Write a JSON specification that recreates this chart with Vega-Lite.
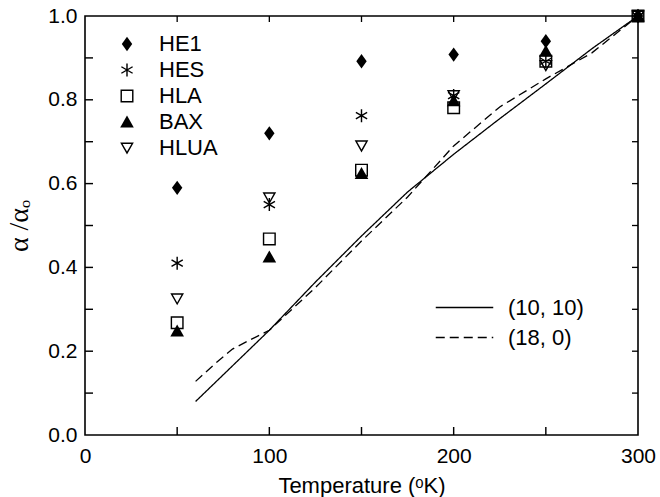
{
  "$schema": "https://vega.github.io/schema/vega-lite/v6.json",
  "width": 553,
  "height": 419,
  "autosize": {"type": "none"},
  "padding": {"left": 85, "top": 16, "right": 22, "bottom": 62},
  "background": "white",
  "config": {
    "view": {"stroke": "black", "strokeWidth": 1.6},
    "font": "Liberation Sans",
    "axis": {"grid": false, "domain": false, "ticks": false, "labelFlush": false, "labelColor": "black", "titleColor": "black", "labelFont": "Liberation Sans", "titleFont": "Liberation Sans", "titleFontWeight": "normal"},
    "axisX": {"labelPadding": 10, "labelFontSize": 21, "titleFontSize": 22, "titlePadding": 9},
    "axisY": {"labelPadding": 8, "labelFontSize": 21, "titleFont": "Liberation Serif", "titleFontSize": 28, "titlePadding": 14}
  },
  "datasets": {
    "pts": [
      {"T": 50, "a": 0.59, "s": "HE1"}, {"T": 50, "a": 0.41, "s": "HES"}, {"T": 50, "a": 0.268, "s": "HLA"}, {"T": 50, "a": 0.248, "s": "BAX"}, {"T": 50, "a": 0.325, "s": "HLUA"},
      {"T": 100, "a": 0.72, "s": "HE1"}, {"T": 100, "a": 0.55, "s": "HES"}, {"T": 100, "a": 0.468, "s": "HLA"}, {"T": 100, "a": 0.425, "s": "BAX"}, {"T": 100, "a": 0.566, "s": "HLUA"},
      {"T": 150, "a": 0.892, "s": "HE1"}, {"T": 150, "a": 0.762, "s": "HES"}, {"T": 150, "a": 0.632, "s": "HLA"}, {"T": 150, "a": 0.624, "s": "BAX"}, {"T": 150, "a": 0.69, "s": "HLUA"},
      {"T": 200, "a": 0.908, "s": "HE1"}, {"T": 200, "a": 0.81, "s": "HES"}, {"T": 200, "a": 0.781, "s": "HLA"}, {"T": 200, "a": 0.798, "s": "BAX"}, {"T": 200, "a": 0.81, "s": "HLUA"},
      {"T": 250, "a": 0.94, "s": "HE1"}, {"T": 250, "a": 0.892, "s": "HES"}, {"T": 250, "a": 0.892, "s": "HLA"}, {"T": 250, "a": 0.916, "s": "BAX"}, {"T": 250, "a": 0.882, "s": "HLUA"},
      {"T": 300, "a": 1.0, "s": "HE1"}, {"T": 300, "a": 1.0, "s": "HES"}, {"T": 300, "a": 1.0, "s": "HLA"}, {"T": 300, "a": 1.0, "s": "BAX"}, {"T": 300, "a": 1.0, "s": "HLUA"}
    ],
    "crv": [
      {"T": 60, "a": 0.08, "c": "(10, 10)"}, {"T": 80, "a": 0.165, "c": "(10, 10)"}, {"T": 100, "a": 0.25, "c": "(10, 10)"}, {"T": 125, "a": 0.365, "c": "(10, 10)"}, {"T": 150, "a": 0.475, "c": "(10, 10)"}, {"T": 175, "a": 0.58, "c": "(10, 10)"}, {"T": 200, "a": 0.67, "c": "(10, 10)"}, {"T": 225, "a": 0.755, "c": "(10, 10)"}, {"T": 250, "a": 0.838, "c": "(10, 10)"}, {"T": 275, "a": 0.922, "c": "(10, 10)"}, {"T": 300, "a": 1.0, "c": "(10, 10)"},
      {"T": 60, "a": 0.128, "c": "(18, 0)"}, {"T": 70, "a": 0.168, "c": "(18, 0)"}, {"T": 80, "a": 0.205, "c": "(18, 0)"}, {"T": 90, "a": 0.228, "c": "(18, 0)"}, {"T": 100, "a": 0.25, "c": "(18, 0)"}, {"T": 125, "a": 0.352, "c": "(18, 0)"}, {"T": 150, "a": 0.463, "c": "(18, 0)"}, {"T": 175, "a": 0.568, "c": "(18, 0)"}, {"T": 200, "a": 0.69, "c": "(18, 0)"}, {"T": 225, "a": 0.783, "c": "(18, 0)"}, {"T": 250, "a": 0.85, "c": "(18, 0)"}, {"T": 275, "a": 0.912, "c": "(18, 0)"}, {"T": 300, "a": 1.0, "c": "(18, 0)"}
    ],
    "xticks": [{"T": 50}, {"T": 100}, {"T": 150}, {"T": 200}, {"T": 250}],
    "yticks": [{"a": 0.1}, {"a": 0.2}, {"a": 0.3}, {"a": 0.4}, {"a": 0.5}, {"a": 0.6}, {"a": 0.7}, {"a": 0.8}, {"a": 0.9}]
  },
  "layer": [
    {
      "data": {"name": "crv"},
      "mark": {"type": "line", "color": "black", "strokeWidth": 1.3},
      "encoding": {
        "x": {"field": "T", "type": "quantitative", "scale": {"domain": [0, 300], "nice": false, "zero": false}, "axis": {"title": "Temperature (ᵒK)", "values": [0, 100, 200, 300]}},
        "y": {"field": "a", "type": "quantitative", "scale": {"domain": [0, 1], "nice": false}, "axis": {"title": "α /αₒ", "values": [0, 0.2, 0.4, 0.6, 0.8, 1.0], "format": ".1f"}},
        "strokeDash": {"field": "c", "type": "nominal",
          "scale": {"domain": ["(10, 10)", "(18, 0)"], "range": [[1, 0], [9, 5]]},
          "legend": {"orient": "none", "legendX": 367, "legendY": 279, "title": null, "padding": 0, "symbolType": "M-2.5,0L2.5,0", "symbolSize": 529, "symbolStrokeColor": "black", "symbolStrokeWidth": 1.3, "labelFontSize": 22, "labelFont": "Liberation Sans", "labelColor": "black", "labelOffset": 31, "rowPadding": 6}}
      }
    },
    {
      "data": {"name": "xticks"},
      "mark": {"type": "point", "filled": true, "color": "black", "strokeWidth": 0, "opacity": 1, "clip": false},
      "encoding": {
        "x": {"field": "T", "type": "quantitative", "axis": {"title": "Temperature (ᵒK)", "values": [0, 100, 200, 300]}},
        "y": {"datum": 0, "type": "quantitative", "axis": {"title": "α /αₒ", "values": [0, 0.2, 0.4, 0.6, 0.8, 1.0], "format": ".1f"}},
        "shape": {"value": "M-0.09,0L0.09,0L0.09,-1L-0.09,-1Z"},
        "size": {"value": 256}
      }
    },
    {
      "data": {"name": "xticks"},
      "mark": {"type": "point", "filled": true, "color": "black", "strokeWidth": 0, "opacity": 1, "clip": false},
      "encoding": {
        "x": {"field": "T", "type": "quantitative", "axis": {"title": "Temperature (ᵒK)", "values": [0, 100, 200, 300]}},
        "y": {"datum": 1, "type": "quantitative", "axis": {"title": "α /αₒ", "values": [0, 0.2, 0.4, 0.6, 0.8, 1.0], "format": ".1f"}},
        "shape": {"value": "M-0.11,0L0.11,0L0.11,1L-0.11,1Z"},
        "size": {"value": 144}
      }
    },
    {
      "data": {"name": "yticks"},
      "mark": {"type": "point", "filled": true, "color": "black", "strokeWidth": 0, "opacity": 1, "clip": false},
      "encoding": {
        "x": {"datum": 0, "type": "quantitative", "axis": {"title": "Temperature (ᵒK)", "values": [0, 100, 200, 300]}},
        "y": {"field": "a", "type": "quantitative", "axis": {"title": "α /αₒ", "values": [0, 0.2, 0.4, 0.6, 0.8, 1.0], "format": ".1f"}},
        "shape": {"value": "M0,-0.09L1,-0.09L1,0.09L0,0.09Z"},
        "size": {"value": 256}
      }
    },
    {
      "data": {"name": "yticks"},
      "mark": {"type": "point", "filled": true, "color": "black", "strokeWidth": 0, "opacity": 1, "clip": false},
      "encoding": {
        "x": {"datum": 300, "type": "quantitative", "axis": {"title": "Temperature (ᵒK)", "values": [0, 100, 200, 300]}},
        "y": {"field": "a", "type": "quantitative", "axis": {"title": "α /αₒ", "values": [0, 0.2, 0.4, 0.6, 0.8, 1.0], "format": ".1f"}},
        "shape": {"value": "M0,-0.11L-1,-0.11L-1,0.11L0,0.11Z"},
        "size": {"value": 144}
      }
    },
    {
      "data": {"name": "pts"},
      "mark": {"type": "point", "filled": true, "color": "black", "strokeWidth": 0, "opacity": 1},
      "encoding": {
        "x": {"field": "T", "type": "quantitative", "axis": {"title": "Temperature (ᵒK)", "values": [0, 100, 200, 300]}},
        "y": {"field": "a", "type": "quantitative", "axis": {"title": "α /αₒ", "values": [0, 0.2, 0.4, 0.6, 0.8, 1.0], "format": ".1f"}},
        "shape": {"field": "s", "type": "nominal",
          "scale": {"domain": ["HE1", "HES", "HLA", "BAX", "HLUA"], "range": [
            "M0,-1.1L0.8,0L0,1.1L-0.8,0Z",
            "M-0.11,-1L0.11,-1L0.11,1L-0.11,1Z M0.811,-0.595L0.921,-0.405L-0.811,0.595L-0.921,0.405Z M-0.921,-0.405L-0.811,-0.595L0.921,0.405L0.811,0.595Z",
            "M-1,-1L1,-1L1,1L-1,1Z M-0.78,-0.78L-0.78,0.78L0.78,0.78L0.78,-0.78Z",
            "M0,-1L1.05,0.85L-1.05,0.85Z",
            "M-1.05,-0.85L1.05,-0.85L0,1Z M-0.672,-0.63L0,0.555L0.672,-0.63Z"]},
          "legend": {"orient": "none", "legendX": 31, "legendY": 17, "title": null, "padding": 0, "symbolSize": 169, "symbolFillColor": "black", "symbolStrokeWidth": 0, "labelFontSize": 22, "labelFont": "Liberation Sans", "labelColor": "black", "labelOffset": 21, "rowPadding": 4}},
        "size": {"value": 169}
      }
    }
  ]
}
